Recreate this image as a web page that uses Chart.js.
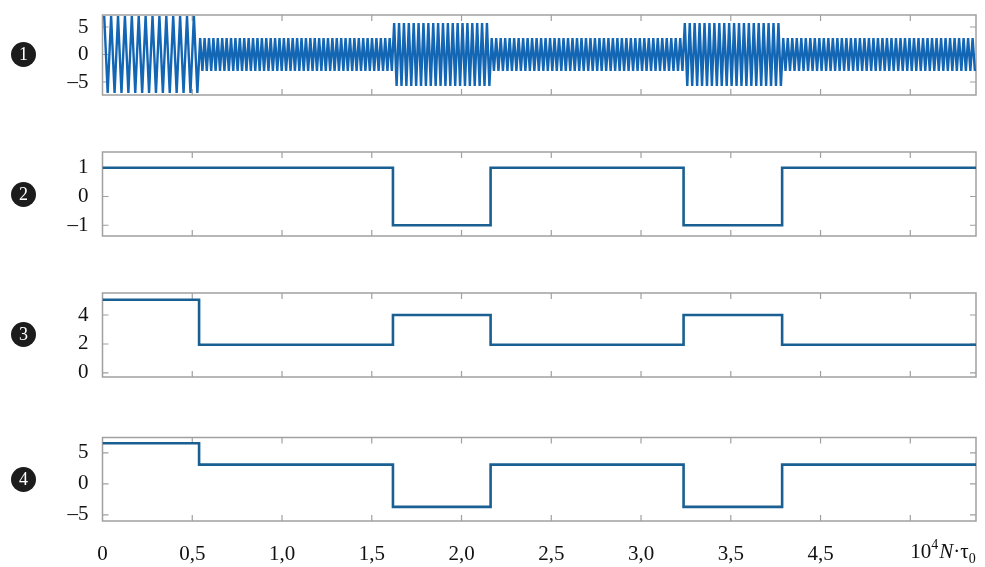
<!DOCTYPE html>
<html>
<head>
<meta charset="utf-8">
<script src="https://cdn.jsdelivr.net/npm/chart.js@4.4.0/dist/chart.umd.min.js"></script>
<style>
html,body{margin:0;padding:0;background:#fff;}
body{width:985px;height:567px;position:relative;overflow:hidden;font-family:"Liberation Serif",serif;}
.box{position:absolute;left:0;width:985px;}
.badge{position:absolute;left:11px;width:25px;height:25px;border-radius:50%;background:#1c1c1c;color:#fff;
  font:18px "Liberation Serif",serif;text-align:center;line-height:25px;}
</style>
</head>
<body>
<div class="box" style="top:0;height:110px"><canvas id="c1"></canvas></div>
<div class="box" style="top:137px;height:114px"><canvas id="c2"></canvas></div>
<div class="box" style="top:278px;height:114px"><canvas id="c3"></canvas></div>
<div class="box" style="top:422px;height:145px"><canvas id="c4"></canvas></div>
<div class="badge" style="top:42px">1</div>
<div class="badge" style="top:182px">2</div>
<div class="badge" style="top:322px">3</div>
<div class="badge" style="top:467px">4</div>
<script>
// ---------- data ----------
const xTickValues = [0, 0.5, 1, 1.5, 2, 2.5, 3, 3.5, 4, 4.5];
const xTickLabels = ['0', '0,5', '1,0', '1,5', '2,0', '2,5', '3,0', '3,5', '4,5', '10⁴N·τ₀'];
const xMax = 4.866;
// segment boundaries (x, units of 10^4 N·tau0)
const segBounds = [0, 0.538, 1.618, 2.162, 3.237, 3.786, 4.866];

// panel 1: oscillation envelope per segment and number of visible cycles per segment
const p1Amplitude = [7.0, 3.0, 5.7, 3.0, 5.7, 3.0];
const p1Cycles = [14, 44, 20, 43, 20, 43];
// panel 2..4: level of each segment
const p2Values = [1, 1, -1, 1, -1, 1];
const p3Values = [5.05, 1.95, 4.0, 1.95, 4.0, 1.95];
const p4Values = [6.55, 3.1, -3.7, 3.1, -3.7, 3.1];

// y ticks
const p1YTicks = [-5, 0, 5];
const p2YTicks = [-1, 0, 1];
const p3YTicks = [0, 2, 4];
const p4YTicks = [-5, 0, 5];

// y ranges
const p1YRange = [-7.36, 7.18];
const p2YRange = [-1.375, 1.55];
const p3YRange = [-0.28, 5.52];
const p4YRange = [-5.97, 7.47];

// ---------- builders ----------
function oscillation(bounds, amps, cycles) {
  const pts = [];
  for (let s = 0; s < amps.length; s++) {
    const a = bounds[s], b = bounds[s + 1], n = cycles[s] * 2;
    for (let k = 0; k < n; k++) {
      pts.push({ x: a + (k + 0.5) * (b - a) / n, y: (k % 2 === 0 ? 1 : -1) * amps[s] });
    }
  }
  return pts;
}
function steps(bounds, vals) {
  const pts = vals.map((v, i) => ({ x: bounds[i], y: v }));
  pts.push({ x: bounds[bounds.length - 1], y: vals[vals.length - 1] });
  return pts;
}
const fmt = v => (v < 0 ? '–' + Math.abs(v) : String(v));
const FONT = { family: '"Liberation Serif", serif', size: 21 };
const FRAME = '#a0a0a0';

const framePlugin = {
  id: 'frame',
  beforeDatasetsDraw(chart) {
    const { ctx, chartArea: { left, right, top, bottom } } = chart;
    ctx.save();
    ctx.strokeStyle = FRAME;
    ctx.lineWidth = 1.5;
    ctx.strokeRect(left, top, right - left, bottom - top);
    ctx.lineWidth = 1.2;
    const xs = chart.scales.x;
    xTickValues.forEach(v => {
      const px = xs.getPixelForValue(v);
      if (px < left + 2 || px > right - 2) return;
      ctx.beginPath();
      ctx.moveTo(px, top); ctx.lineTo(px, top + 6);
      ctx.moveTo(px, bottom); ctx.lineTo(px, bottom - 6);
      ctx.stroke();
    });
    const ys = chart.scales.y;
    ys.ticks.forEach(t => {
      const py = ys.getPixelForValue(t.value);
      ctx.beginPath();
      ctx.moveTo(left, py); ctx.lineTo(left + 6, py);
      ctx.moveTo(right, py); ctx.lineTo(right - 6, py);
      ctx.stroke();
    });
    ctx.restore();
  }
};

// last x label "10^4 N·τ0" with super/subscripts, starting at the last tick
const xLabelPlugin = {
  id: 'xlabel',
  afterDraw(chart) {
    const { ctx } = chart;
    const xs = chart.scales.x;
    let x = xs.getPixelForValue(xTickValues[xTickValues.length - 1]);
    const base = xs.top + 37;
    ctx.save();
    ctx.fillStyle = '#111';
    ctx.textAlign = 'left';
    ctx.textBaseline = 'alphabetic';
    const part = (txt, font, dy) => { ctx.font = font; ctx.fillText(txt, x, base + dy); x += ctx.measureText(txt).width; };
    part('10', '21px "Liberation Serif"', 0);
    part('4', '14px "Liberation Serif"', -9);
    x += 1;
    part('N', 'italic 21px "Liberation Serif"', 0);
    part('·', '21px "Liberation Serif"', 0);
    part('τ', '21px "Liberation Serif"', 0);
    part('0', '14px "Liberation Serif"', 5);
    ctx.restore();
  }
};

function makeChart(id, data, color, width, yRange, yTicks, opts) {
  const showX = !!opts.showX;
  return new Chart(document.getElementById(id), {
    type: 'line',
    data: { datasets: [{ data, borderColor: color, borderWidth: width, pointRadius: 0,
      tension: 0, stepped: opts.stepped || false, fill: false }] },
    options: {
      animation: false, responsive: true, maintainAspectRatio: false,
      layout: { padding: { top: opts.padTop, bottom: showX ? 0 : opts.padBottom, left: 0, right: 9 } },
      plugins: { legend: { display: false }, tooltip: { enabled: false } },
      scales: {
        x: {
          type: 'linear', min: 0, max: xMax, display: showX,
          grid: { display: false }, border: { display: false },
          afterBuildTicks: s => { s.ticks = xTickValues.map(v => ({ value: v })); },
          afterFit: s => { if (showX) s.height = 46; s.paddingLeft = 0; s.paddingRight = 0; },
          ticks: { autoSkip: false, maxRotation: 0, padding: 13, color: '#111', font: FONT,
            callback: (v, i) => (i < xTickLabels.length - 1 ? xTickLabels[i] : '') }
        },
        y: {
          min: yRange[0], max: yRange[1],
          grid: { display: false, drawTicks: false }, border: { display: false },
          afterBuildTicks: s => { s.ticks = yTicks.map(v => ({ value: v })); },
          afterFit: s => { s.width = 102.5; s.paddingTop = 0; s.paddingBottom = 0; },
          ticks: { padding: 14, color: '#111', font: FONT, callback: v => fmt(v) }
        }
      }
    },
    plugins: showX ? [framePlugin, xLabelPlugin] : [framePlugin]
  });
}

makeChart('c1', oscillation(segBounds, p1Amplitude, p1Cycles), '#1366b4', 2.4, p1YRange, p1YTicks, { padTop: 15, padBottom: 15 });
makeChart('c2', steps(segBounds, p2Values), '#1a5f92', 2.6, p2YRange, p2YTicks, { padTop: 15, padBottom: 15, stepped: true });
makeChart('c3', steps(segBounds, p3Values), '#1a5f92', 2.6, p3YRange, p3YTicks, { padTop: 15, padBottom: 15, stepped: true });
makeChart('c4', steps(segBounds, p4Values), '#1a5f92', 2.6, p4YRange, p4YTicks, { padTop: 15.5, stepped: true, showX: true });
</script>
</body>
</html>
